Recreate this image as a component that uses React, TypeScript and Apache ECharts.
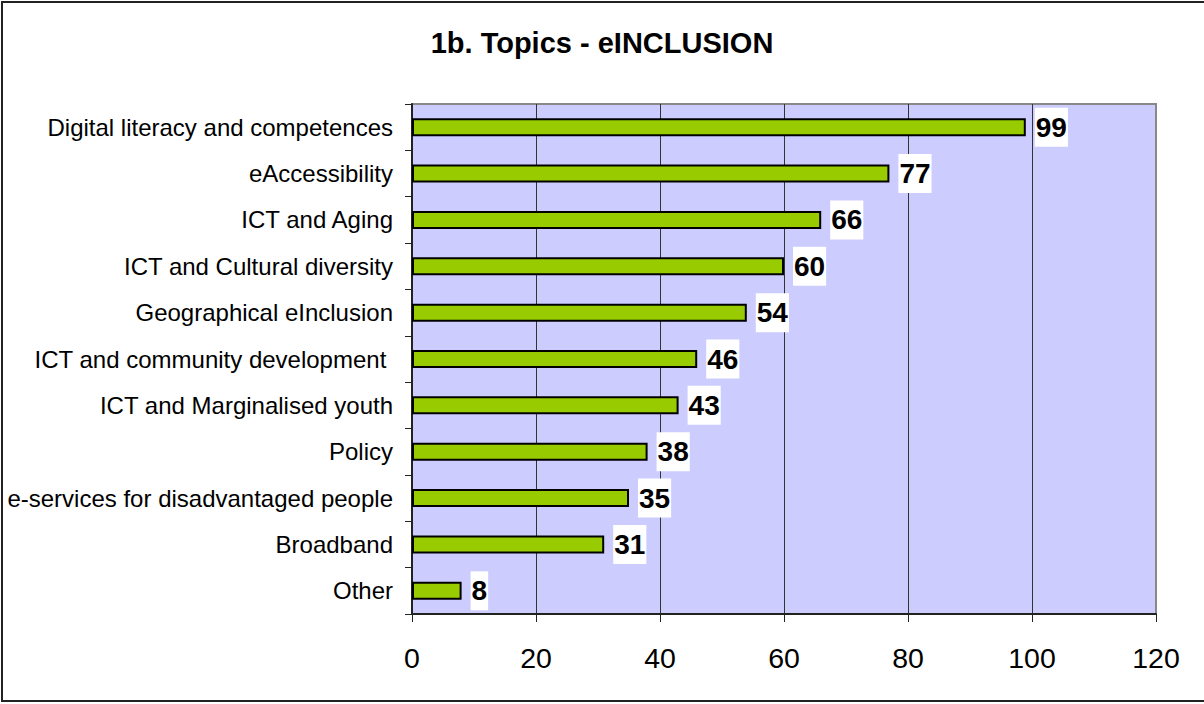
import React, { useEffect, useRef } from "react";
import * as echarts from "echarts";

const categories = [
  "Digital literacy and competences",
  "eAccessibility",
  "ICT and Aging",
  "ICT and Cultural diversity",
  "Geographical eInclusion",
  "ICT and community development ",
  "ICT and Marginalised youth",
  "Policy",
  "e-services for disadvantaged people",
  "Broadband",
  "Other",
];
const values = [99, 77, 66, 60, 54, 46, 43, 38, 35, 31, 8];
const titleText = "1b. Topics - eINCLUSION";
const xMin = 0;
const xMax = 120;
const xStep = 20;

const FONT = "'Liberation Sans', Arial, sans-serif";

export default function App() {
  const ref = useRef<HTMLDivElement>(null);
  useEffect(() => {
    if (!ref.current) return;
    const chart = echarts.init(ref.current, null, { renderer: "svg" });
    chart.setOption({
      animation: false,
      backgroundColor: "#ffffff",
      textStyle: { fontFamily: FONT },
      title: {
        text: titleText,
        left: "center",
        top: 23,
        textStyle: { fontFamily: FONT, fontSize: 29, fontWeight: "bold", color: "#000" },
      },
      graphic: [
        {
          type: "rect",
          shape: { x: 2, y: 2, width: 1215, height: 699 },
          style: { fill: "none", stroke: "#222", lineWidth: 2 },
          silent: true,
          z: 100,
        },
      ],
      grid: {
        left: 412,
        top: 104,
        width: 744,
        height: 510,
        show: true,
        backgroundColor: "#CCCCFF",
        borderColor: "#888888",
        borderWidth: 2,
      },
      xAxis: {
        type: "value",
        min: xMin,
        max: xMax,
        interval: xStep,
        axisLine: { show: true, lineStyle: { color: "#222", width: 2 } },
        axisTick: { show: true, length: 8, lineStyle: { color: "#222", width: 1 } },
        axisLabel: { fontSize: 28.5, color: "#000", margin: 29, fontFamily: FONT },
        splitLine: {
          show: true,
          lineStyle: {
            color: ["#222", "#333", "#333", "#333", "#333", "#333", "#888"],
            width: 1,
          },
        },
      },
      yAxis: {
        type: "category",
        data: categories,
        inverse: true,
        axisLine: { show: true, lineStyle: { color: "#222", width: 2 } },
        axisTick: { show: true, length: 7, alignWithLabel: false, lineStyle: { color: "#222", width: 1 } },
        axisLabel: { fontSize: 24, color: "#000", margin: 19, fontFamily: FONT },
        splitLine: { show: false },
      },
      series: [
        {
          type: "bar",
          data: values,
          barWidth: 18,
          itemStyle: { color: "#99CC00", borderColor: "#000", borderWidth: 2 },
          label: {
            show: true,
            position: "right",
            distance: 9,
            fontSize: 28,
            fontWeight: "bold",
            color: "#000",
            fontFamily: FONT,
            backgroundColor: "#ffffff",
            padding: [4, 1, 4, 1],
            lineHeight: 31,
          },
        },
      ],
    });
    return () => chart.dispose();
  }, []);
  return (
    <div
      ref={ref}
      style={{ position: "absolute", left: 0, top: 0, width: 1204, height: 704, background: "#fff" }}
    />
  );
}
